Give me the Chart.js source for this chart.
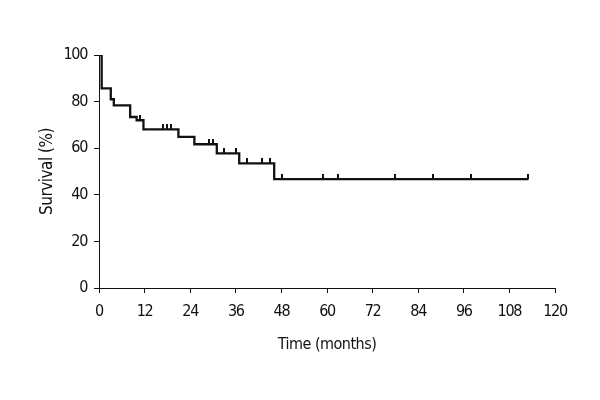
<!DOCTYPE html>
<html><head><meta charset="utf-8">
<script src="https://cdn.jsdelivr.net/npm/chart.js@4.4.1/dist/chart.umd.min.js"></script>
<style>html,body{margin:0;padding:0;background:#fff}canvas{display:block}</style>
</head><body>
<canvas id="c" width="600" height="400"></canvas>
<script>
// Kaplan-Meier step curve: time (months) of each step and survival (%) after it
const eventTimes = [0, 0.7, 3.1, 3.9, 8.2, 9.9, 11.7, 20.9, 25.1, 31.0, 36.9, 46.1, 113.0];
const survival   = [100, 85.7, 81.0, 78.4, 73.4, 72.0, 68.1, 64.9, 61.7, 57.8, 53.5, 46.7, 46.7];
// censored observations (months)
const censorTimes = [10.8, 16.9, 18.0, 18.9, 28.9, 29.9, 32.9, 36.1, 38.9, 43.0, 45.0, 48.1, 59.0, 63.0, 78.0, 88.0, 97.9, 113.0];
const xTicks = [0, 12, 24, 36, 48, 60, 72, 84, 96, 108, 120];
const yTicks = [0, 20, 40, 60, 80, 100];
const xTitle = 'Time (months)';
const yTitle = 'Survival (%)';

const INK = '#111';
const FONT = "'Liberation Sans Narrow', 'DejaVu Sans Condensed', 'Liberation Sans', sans-serif";

function survAt(t) {
  let s = survival[0];
  for (let i = 0; i < eventTimes.length; i++) { if (eventTimes[i] <= t) s = survival[i]; }
  return s;
}

// censor mark: short vertical stroke standing on the curve
const mark = document.createElement('canvas');
mark.width = 2; mark.height = 10;
const mctx = mark.getContext('2d');
mctx.fillStyle = INK;
mctx.fillRect(0, 0, 2, 5);

const stepData = eventTimes.map((t, i) => ({x: t, y: survival[i]}));
const censorData = censorTimes.map(t => ({x: t, y: survAt(t)}));

// tighten text so the condensed face reads like the reference's narrow face
function withSpacing(fn, spacing) {
  return function (...args) {
    const ctx = this.ctx;
    ctx.save();
    ctx.letterSpacing = spacing;
    fn.apply(this, args);
    ctx.restore();
  };
}
const tightText = {
  id: 'tightText',
  afterUpdate(chart) {
    Object.values(chart.scales).forEach(sc => {
      if (sc._tightWrapped) return;
      sc.drawLabels = withSpacing(sc.drawLabels, '-1.3px');
      sc.drawTitle = withSpacing(sc.drawTitle, '-0.5px');
      sc._tightWrapped = true;
    });
  }
};

new Chart(document.getElementById('c'), {
  type: 'line',
  plugins: [tightText],
  data: {
    datasets: [
      {data: stepData, stepped: 'before', borderColor: INK, borderWidth: 2.3, pointRadius: 0, fill: false, tension: 0},
      {data: censorData, showLine: false, pointStyle: mark, pointRadius: 5, borderWidth: 0}
    ]
  },
  options: {
    responsive: false,
    animation: false,
    devicePixelRatio: 1,
    layout: {padding: {top: 55, right: 45, left: 0, bottom: 0}},
    plugins: {legend: {display: false}, tooltip: {enabled: false}},
    scales: {
      x: {
        type: 'linear', min: 0, max: 120,
        afterBuildTicks: s => { s.ticks = xTicks.map(v => ({value: v})); },
        afterFit: s => { s.height = 112; },
        grid: {drawOnChartArea: false, drawTicks: true, tickLength: 5, color: INK, lineWidth: 1},
        border: {display: true, color: INK, width: 1},
        ticks: {color: INK, font: {family: FONT, size: 16}, padding: 9, maxRotation: 0, autoSkip: false},
        title: {display: true, text: xTitle, color: INK, font: {family: FONT, size: 16}, padding: {top: 0, bottom: 46}}
      },
      y: {
        type: 'linear', min: 0, max: 100,
        afterBuildTicks: s => { s.ticks = yTicks.map(v => ({value: v})); },
        afterFit: s => { s.width = 99; },
        grid: {drawOnChartArea: false, drawTicks: true, tickLength: 5, color: INK, lineWidth: 1},
        border: {display: true, color: INK, width: 1},
        ticks: {color: INK, font: {family: FONT, size: 16}, padding: 7},
        title: {display: true, text: yTitle, color: INK, font: {family: FONT, size: 17}, padding: {top: 37, bottom: 0}}
      }
    }
  }
});
</script>
</body></html>
